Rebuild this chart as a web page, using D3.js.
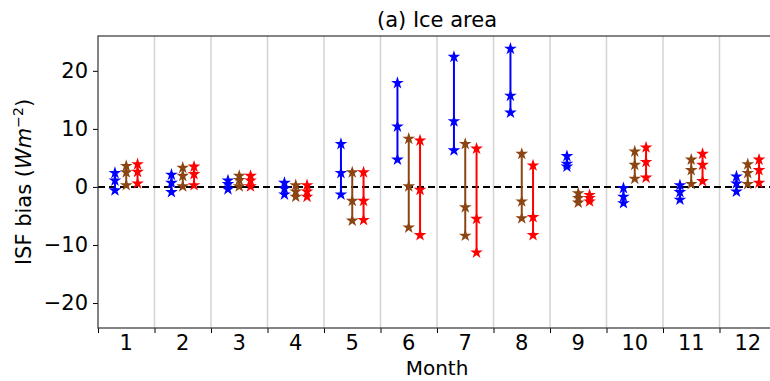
<!DOCTYPE html>
<html lang="en">
<head>
    <meta charset="UTF-8">
    <title>Ice area</title>
    <script src="https://cdn.jsdelivr.net/npm/d3@7"></script>
    <style>
        body { margin: 0; background: #fff; }
        text { font-family: "DejaVu Sans", sans-serif; fill: #000; }
        .grid line { stroke: #d3d3d3; stroke-width: 1.5; }
    </style>
</head>
<body>
<svg width="770" height="381"></svg>
<script>
    // months and the three runs (min / middle / max for each month)
    var months = [1, 2, 3, 4, 5, 6, 7, 8, 9, 10, 11, 12];
    var yTicks = [-20, -10, 0, 10, 20];

    var blueMin = [-0.6, -0.9, -0.4, -1.3, -1.3, 4.7, 6.3, 12.8, 3.5, -2.8, -2.2, -0.8];
    var blueMid = [1.1, 0.7, 0.5, -0.3, 2.4, 10.4, 11.3, 15.7, 4.0, -1.7, -0.9, 0.6];
    var blueMax = [2.4, 2.1, 1.1, 0.7, 7.4, 17.9, 22.4, 23.8, 5.3, -0.2, 0.3, 1.8];

    var brownMin = [0.3, 0.1, 0.1, -1.7, -5.8, -7.0, -8.4, -5.4, -2.7, 1.4, 0.5, 0.5];
    var brownMid = [2.5, 1.9, 1.2, -0.8, -2.4, 0.1, -3.5, -2.5, -1.9, 3.8, 2.9, 2.4];
    var brownMax = [3.6, 3.3, 1.9, 0.3, 2.5, 8.3, 7.4, 5.7, -1.1, 6.1, 4.7, 3.9];

    var redMin = [0.6, 0.3, 0.1, -1.7, -5.7, -8.3, -11.3, -8.3, -2.5, 1.6, 1.0, 0.7];
    var redMid = [2.6, 2.2, 1.1, -0.8, -2.4, -0.5, -5.5, -5.2, -1.9, 4.3, 3.8, 2.9];
    var redMax = [3.9, 3.5, 1.9, 0.3, 2.5, 8.0, 6.6, 3.7, -1.4, 6.8, 5.7, 4.7];

    var series = [
        {color: "#0000ff", offset: -0.2, lo: blueMin, mid: blueMid, hi: blueMax},
        {color: "#8b4513", offset: 0, lo: brownMin, mid: brownMid, hi: brownMax},
        {color: "#ff0000", offset: 0.2, lo: redMin, mid: redMid, hi: redMax}
    ];

    var svg = d3.select("svg");
    var margin = {left: 98, top: 36, right: 776, bottom: 328};
    var fs = "21px";

    var x = d3.scaleLinear().domain([0.5, 12.5]).range([margin.left, margin.right]);
    var y = d3.scaleLinear().domain([-24.3, 26]).range([margin.bottom, margin.top]);

    // vertical grid lines between months
    svg.append("g").attr("class", "grid")
        .selectAll("line")
        .data(d3.range(1.5, 12, 1))
        .enter().append("line")
        .attr("x1", function (d) { return x(d); })
        .attr("x2", function (d) { return x(d); })
        .attr("y1", margin.top)
        .attr("y2", margin.bottom);

    // zero line
    svg.append("line")
        .attr("x1", margin.left).attr("x2", margin.right)
        .attr("y1", y(0)).attr("y2", y(0))
        .attr("stroke", "#000")
        .attr("stroke-width", 2)
        .attr("stroke-dasharray", "7,4");

    var star = d3.symbol().type(d3.symbolStar).size(50);

    series.forEach(function (s) {
        var g = svg.append("g");
        g.selectAll("line")
            .data(months)
            .enter().append("line")
            .attr("x1", function (m) { return x(m + s.offset); })
            .attr("x2", function (m) { return x(m + s.offset); })
            .attr("y1", function (m, i) { return y(s.lo[i]); })
            .attr("y2", function (m, i) { return y(s.hi[i]); })
            .attr("stroke", s.color)
            .attr("stroke-width", 2);

        [s.lo, s.mid, s.hi].forEach(function (arr) {
            g.selectAll(null)
                .data(months)
                .enter().append("path")
                .attr("d", star)
                .attr("transform", function (m, i) {
                    return "translate(" + x(m + s.offset) + "," + y(arr[i]) + ")";
                })
                .attr("fill", s.color);
        });
    });

    // axes
    var yAxis = svg.append("g")
        .attr("transform", "translate(" + margin.left + ",0)")
        .call(d3.axisLeft(y).tickValues(yTicks).tickSize(5).tickPadding(5)
            .tickFormat(function (d) { return d < 0 ? "\u2212" + Math.abs(d) : d; }));
    yAxis.select(".domain").remove();
    yAxis.selectAll("text").style("font-size", fs);

    var xAxis = svg.append("g")
        .attr("transform", "translate(0," + margin.bottom + ")")
        .call(d3.axisBottom(x).tickValues(d3.range(0.5, 13, 1)).tickSize(5).tickFormat(""));
    xAxis.select(".domain").remove();

    svg.append("g").selectAll("text")
        .data(months)
        .enter().append("text")
        .attr("x", function (m) { return x(m); })
        .attr("y", 350)
        .attr("text-anchor", "middle")
        .style("font-size", fs)
        .text(function (m) { return m; });

    // frame
    svg.append("rect")
        .attr("x", margin.left).attr("y", margin.top)
        .attr("width", margin.right - margin.left)
        .attr("height", margin.bottom - margin.top)
        .attr("fill", "none")
        .attr("stroke", "#333")
        .attr("stroke-width", 1.2);

    // labels
    svg.append("text")
        .attr("x", (margin.left + margin.right) / 2)
        .attr("y", 27)
        .attr("text-anchor", "middle")
        .style("font-size", fs)
        .text("(a) Ice area");

    svg.append("text")
        .attr("x", (margin.left + margin.right) / 2)
        .attr("y", 375)
        .attr("text-anchor", "middle")
        .style("font-size", "20px")
        .text("Month");

    var yl = svg.append("text")
        .attr("transform", "translate(31," + (margin.top + margin.bottom) / 2 + ") rotate(-90)")
        .attr("text-anchor", "middle")
        .style("font-size", fs);
    yl.append("tspan").text("ISF bias (");
    yl.append("tspan").style("font-style", "italic").text("Wm");
    yl.append("tspan").attr("dy", -8).style("font-size", "14px").text("\u22122");
    yl.append("tspan").attr("dy", 8).text(")");
</script>
</body>
</html>
